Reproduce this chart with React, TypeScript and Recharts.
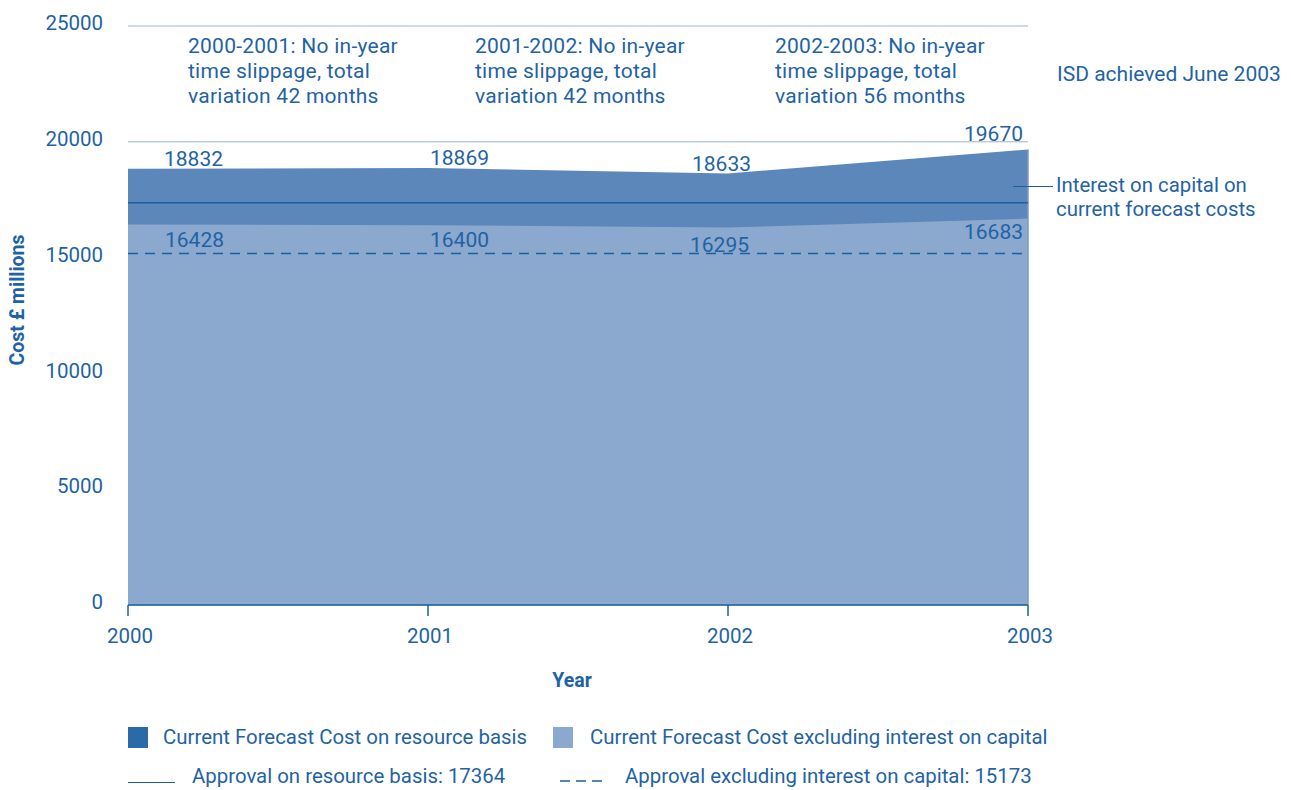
import { AreaChart, Area, XAxis, YAxis, CartesianGrid, ReferenceLine, LabelList } from "recharts";

const years = [2000, 2001, 2002, 2003];
const forecastResource = [18832, 18869, 18633, 19670];
const forecastExclInterest = [16428, 16400, 16295, 16683];
const yTicks = [0, 5000, 10000, 15000, 20000, 25000];
const approvalResource = 17364;
const approvalExclInterest = 15173;

const notes = [
  ["2000-2001: No in-year", "time slippage, total", "variation 42 months"],
  ["2001-2002: No in-year", "time slippage, total", "variation 42 months"],
  ["2002-2003: No in-year", "time slippage, total", "variation 56 months"],
];

const data = years.map((year, i) => ({
  year,
  total: forecastResource[i],
  excl: forecastExclInterest[i],
}));

const TEXT = "#1f63a5";
const DARK_FILL = "#5c87ba";
const LIGHT_FILL = "#8ba8cf";
const LINE = "#1a5f9f";
const GRID = "#9fb2cf";
const FONT = "Roboto, 'Open Sans', sans-serif";

// label placement per point: [anchor, dx, dy]
const topLabelPos: [string, number, number][] = [
  ["start", 36, -10],
  ["start", 2, -10],
  ["end", 23, -9],
  ["end", -5, -15],
];
const bottomLabelPos: [string, number, number][] = [
  ["start", 37, 15],
  ["start", 2, 15],
  ["end", 21, 17],
  ["end", -5, 13],
];

function makeLabel(pos: [string, number, number][]) {
  return (props: any) => {
    const { x, y, value, index } = props;
    const [anchor, dx, dy] = pos[index];
    return (
      <text
        x={x + dx}
        y={y + dy}
        textAnchor={anchor as any}
        dominantBaseline="central"
        fill={TEXT}
        fontSize={21}
        fontFamily={FONT}
      >
        {value}
      </text>
    );
  };
}

const noteStyle: React.CSSProperties = {
  position: "absolute",
  color: TEXT,
  fontSize: 21,
  lineHeight: "25px",
  fontFamily: FONT,
  whiteSpace: "nowrap",
};

const legendText: React.CSSProperties = { ...noteStyle, fontSize: 20.4 };

export default function App() {
  return (
    <div style={{ position: "relative", width: 1291, height: 790, background: "#fff", fontFamily: FONT }}>
      <style>{"body{margin:0}"}</style>
      <AreaChart
        width={1291}
        height={790}
        data={data}
        margin={{ top: 26, right: 263, bottom: 125, left: 0 }}
      >
        <CartesianGrid horizontal vertical={false} stroke={GRID} strokeWidth={1} />
        <XAxis
          dataKey="year"
          type="number"
          domain={[2000, 2003]}
          ticks={years}
          height={60}
          axisLine={{ stroke: LINE, strokeWidth: 1.5 }}
          tickLine={{ stroke: LINE, strokeWidth: 1.5 }}
          tickSize={11}
          tickMargin={12}
          tick={{ fill: TEXT, fontSize: 20.5, fontFamily: FONT, dx: 2 }}
        />
        <YAxis
          type="number"
          domain={[0, 25000]}
          ticks={yTicks}
          width={128}
          axisLine={false}
          tickLine={false}
          tickSize={0}
          tickMargin={25}
          tick={{ fill: TEXT, fontSize: 20.5, fontFamily: FONT, dy: -3 }}
        />
        <Area
          type="linear"
          dataKey="total"
          stroke="none"
          fill={DARK_FILL}
          fillOpacity={1}
          isAnimationActive={false}
        />
        <Area
          type="linear"
          dataKey="excl"
          stroke="none"
          fill={LIGHT_FILL}
          fillOpacity={1}
          isAnimationActive={false}
        />
        <ReferenceLine
          segment={[
            { x: 2003, y: 0 },
            { x: 2003, y: forecastResource[3] },
          ]}
          stroke="#7a9ccb"
          strokeWidth={1.5}
        />
        <ReferenceLine y={approvalResource} stroke={LINE} strokeWidth={1.5} />
        <ReferenceLine y={approvalExclInterest} stroke={LINE} strokeWidth={1.5} strokeDasharray="10 7" />
        <Area
          type="linear"
          dataKey="total"
          stroke="none"
          fill="none"
          isAnimationActive={false}
          legendType="none"
        >
          <LabelList dataKey="total" content={makeLabel(topLabelPos)} />
        </Area>
        <Area
          type="linear"
          dataKey="excl"
          stroke="none"
          fill="none"
          isAnimationActive={false}
          legendType="none"
        >
          <LabelList dataKey="excl" content={makeLabel(bottomLabelPos)} />
        </Area>
      </AreaChart>

      {notes.map((lines, i) => (
        <div key={i} style={{ ...noteStyle, letterSpacing: 0.25, left: [188, 475, 775][i], top: 34 }}>
          {lines.map((l) => (
            <div key={l}>{l}</div>
          ))}
        </div>
      ))}
      <div style={{ ...noteStyle, left: 1057, top: 62 }}>ISD achieved June 2003</div>
      <div style={{ position: "absolute", left: 1013, top: 186, width: 40, height: 0, borderTop: `1.5px solid ${LINE}` }} />
      <div style={{ ...noteStyle, fontSize: 20.4, left: 1056, top: 173, lineHeight: "24px" }}>
        <div>Interest on capital on</div>
        <div>current forecast costs</div>
      </div>

      <div
        style={{
          position: "absolute",
          left: 17,
          top: 300,
          transform: "translate(-50%, -50%) rotate(-90deg)",
          color: TEXT,
          fontWeight: 700,
          fontSize: 19.5,
          whiteSpace: "nowrap",
        }}
      >
        Cost £ millions
      </div>
      <div
        style={{
          position: "absolute",
          left: 572,
          top: 680,
          transform: "translate(-50%, -50%)",
          color: TEXT,
          fontWeight: 700,
          fontSize: 19.5,
        }}
      >
        Year
      </div>

      <div style={{ position: "absolute", left: 128, top: 727, width: 20, height: 21, background: "#2a6aa8" }} />
      <div style={{ ...legendText, left: 163, top: 725 }}>Current Forecast Cost on resource basis</div>
      <div style={{ position: "absolute", left: 553, top: 727, width: 20, height: 21, background: LIGHT_FILL }} />
      <div style={{ ...legendText, left: 590, top: 725 }}>Current Forecast Cost excluding interest on capital</div>

      <div style={{ position: "absolute", left: 128, top: 782, width: 47, height: 0, borderTop: `1.5px solid ${LINE}` }} />
      <div style={{ ...legendText, left: 192, top: 764 }}>Approval on resource basis: 17364</div>
      <svg style={{ position: "absolute", left: 560, top: 776 }} width={42} height={10}>
        <line x1={0} y1={5} x2={42} y2={5} stroke={LINE} strokeWidth={1.5} strokeDasharray="10 6" />
      </svg>
      <div style={{ ...legendText, left: 625, top: 764 }}>Approval excluding interest on capital: 15173</div>
    </div>
  );
}
